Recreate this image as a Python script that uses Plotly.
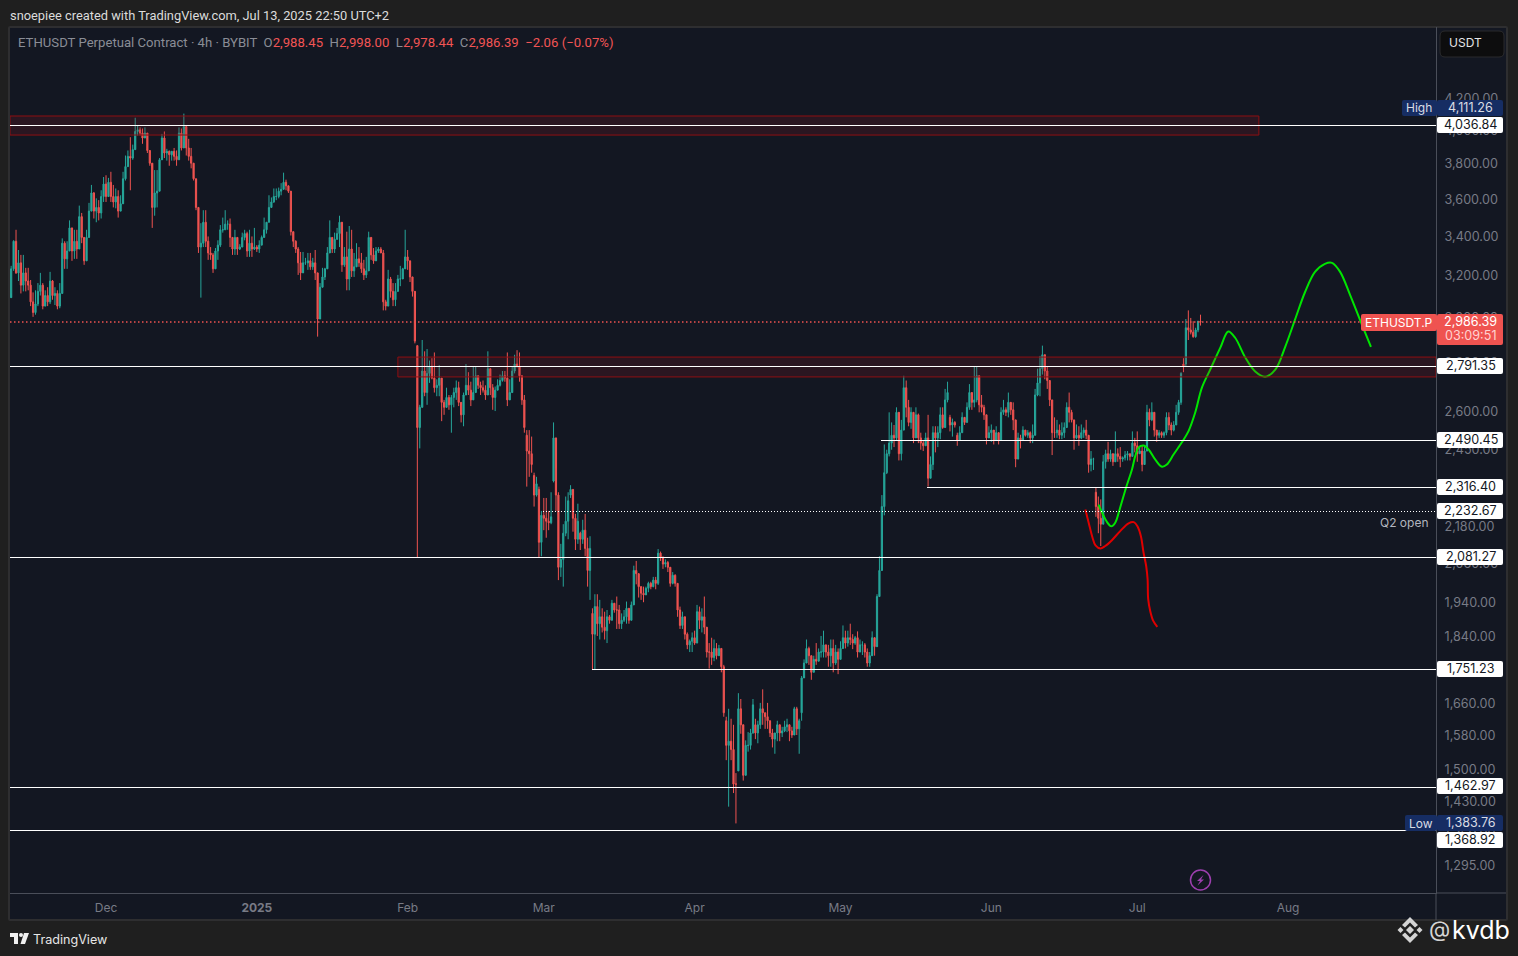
import math
import pandas as pd
import plotly.graph_objects as go

# 12h candles, one row = 10 days, starts 2024-11-11 12:00
highs = [
    3255,3385,3440,3335,3310,3310,3245,3245,3185,3125,3135,3170,3220,3170,3135,3150,3225,3185,3150,3135,
    3170,3395,3380,3380,3490,3440,3440,3440,3570,3530,3390,3440,3585,3685,3645,3610,3600,3655,3730,3740,
    3725,3760,3685,3665,3655,3627,3760,3855,3885,3965,3920,4085,4037,4025,4018,4025,3955,3870,3780,3770,
    3770,3840,3985,4000,3895,3885,3855,3900,3885,4025,4018,4111,4037,3955,3900,3780,3695,3465,3475,3545,
    3545,3405,3350,3320,3345,3385,3465,3505,3545,3490,3500,3360,3440,3365,3365,3425,3440,3430,3440,3405,
    3450,3360,3385,3410,3505,3480,3627,3615,3665,3665,3670,3695,3755,3715,3675,3645,3410,3385,3350,3325,
    3325,3295,3320,3320,3295,3335,3090,3170,3245,3245,3350,3490,3360,3425,3450,3515,3345,3350,3430,3460,
    3440,3320,3370,3350,3320,3285,3300,3430,3380,3345,3350,3350,3350,3335,3090,3235,3200,3170,3170,3210,
    3255,3245,3440,3335,3245,3170,3105,2880,2630,2905,2855,2865,2815,2825,2850,2735,2795,2665,2650,2700,
    2670,2670,2700,2730,2725,2630,2680,2800,2765,2725,2790,2790,2745,2725,2730,2710,2855,2775,2715,2705,
    2735,2755,2770,2770,2850,2735,2790,2840,2860,2850,2720,2670,2530,2530,2505,2370,2355,2320,2235,2280,
    2280,2235,2300,2560,2385,2300,2125,2190,2285,2300,2325,2235,2225,2260,2165,2205,2225,2145,2150,1925,
    1967,1967,1950,1925,1915,1920,1905,1950,1935,1960,1935,1910,1920,1945,1925,1945,2055,2070,2020,1985,
    1990,1990,2005,2005,2020,2020,2108,2100,2085,2075,2070,2040,2035,2028,1990,1930,1915,1890,1855,1835,
    1855,1860,1935,1930,1925,1960,1845,1825,1840,1835,1825,1820,1800,1765,1630,1650,1625,1610,1495,1690,
    1675,1545,1572,1592,1600,1675,1625,1620,1665,1700,1640,1665,1610,1600,1590,1620,1600,1605,1620,1625,
    1600,1605,1655,1655,1625,1735,1780,1835,1815,1790,1790,1825,1810,1845,1860,1820,1820,1835,1835,1820,
    1810,1830,1875,1860,1860,1880,1850,1845,1858,1835,1830,1825,1810,1800,1858,1825,1967,2085,2290,2475,
    2455,2600,2560,2550,2620,2500,2570,2750,2730,2650,2620,2590,2620,2595,2520,2490,2520,2590,2430,2545,
    2545,2545,2620,2620,2695,2725,2590,2575,2565,2520,2545,2600,2575,2640,2715,2670,2790,2790,2735,2670,
    2630,2590,2545,2552,2525,2545,2520,2620,2650,2620,2680,2630,2640,2540,2520,2512,2545,2530,2530,2525,
    2552,2695,2780,2835,2880,2835,2790,2715,2650,2580,2570,2552,2560,2560,2640,2680,2610,2552,2552,2545,
    2552,2540,2570,2495,2450,2425,2315,2285,2275,2435,2455,2485,2455,2435,2525,2460,2465,2430,2450,2450,
    2440,2525,2500,2525,2470,2470,2470,2630,2615,2640,2600,2525,2530,2525,2525,2600,2600,2560,2565,2630,
    2650,2765,2825,3000,3040,3005,2990,2960,2985,3020,
]
lows = [
    3120,3230,3215,3180,3120,3130,3130,3135,3060,3010,3020,3060,3110,3045,3090,3060,3070,3090,3065,3045,
    3050,3120,3240,3240,3330,3280,3290,3290,3370,3370,3260,3300,3430,3560,3500,3480,3490,3500,3590,3590,
    3655,3590,3560,3555,3505,3545,3655,3710,3800,3655,3830,3975,3975,3975,3925,3975,3870,3795,3450,3515,
    3560,3750,3840,3840,3825,3795,3825,3825,3795,3855,3885,3935,3855,3825,3780,3710,3545,3320,3100,3350,
    3350,3285,3285,3220,3265,3285,3350,3425,3440,3440,3350,3310,3310,3310,3335,3350,3385,3300,3300,3300,
    3335,3325,3320,3360,3420,3420,3530,3570,3585,3600,3610,3627,3670,3655,3640,3410,3350,3320,3210,3185,
    3245,3260,3235,3235,3235,3185,2920,3135,3185,3185,3275,3385,3320,3320,3395,3350,3225,3250,3135,3135,
    3200,3200,3260,3250,3220,3185,3195,3350,3285,3265,3300,3320,3320,3040,3040,3060,3100,3060,3060,3135,
    3155,3220,3290,3235,3175,3105,2890,2081,2460,2670,2665,2630,2720,2735,2680,2665,2665,2565,2590,2625,
    2610,2520,2620,2650,2625,2560,2545,2685,2670,2625,2670,2705,2695,2670,2680,2650,2670,2670,2610,2605,
    2695,2705,2725,2725,2625,2650,2755,2760,2785,2725,2630,2520,2320,2355,2370,2250,2285,2080,2085,2170,
    2145,2170,2190,2335,2235,2010,2020,1990,2150,2140,2280,2165,2105,2125,2105,2125,2085,1990,1950,1751,
    1751,1845,1835,1855,1835,1825,1880,1900,1912,1865,1865,1865,1885,1880,1880,1925,1990,1997,1957,1950,
    1943,1967,1973,1982,1988,1982,1995,2070,2045,2050,2035,1990,1997,1990,1900,1865,1865,1835,1808,1800,
    1800,1820,1845,1865,1855,1850,1785,1755,1765,1775,1780,1800,1745,1630,1525,1420,1525,1450,1384,1565,
    1588,1478,1545,1545,1550,1588,1575,1565,1600,1610,1600,1600,1580,1555,1540,1570,1570,1580,1592,1592,
    1570,1578,1600,1585,1540,1620,1735,1775,1765,1725,1745,1765,1780,1785,1785,1785,1760,1760,1745,1765,
    1740,1785,1815,1810,1815,1820,1808,1820,1785,1808,1792,1785,1760,1760,1808,1790,1820,1970,2110,2220,
    2365,2430,2455,2465,2490,2415,2415,2530,2580,2545,2535,2480,2520,2480,2455,2450,2470,2320,2355,2380,
    2445,2465,2495,2535,2590,2640,2525,2505,2540,2470,2495,2520,2550,2560,2610,2610,2620,2640,2600,2600,
    2570,2475,2505,2485,2475,2495,2475,2490,2590,2585,2580,2590,2530,2390,2460,2460,2495,2505,2500,2480,
    2480,2525,2665,2665,2755,2735,2695,2625,2435,2500,2500,2495,2495,2500,2540,2560,2560,2455,2495,2470,
    2495,2500,2495,2370,2375,2380,2215,2160,2118,2190,2385,2410,2410,2395,2415,2410,2390,2410,2415,2415,
    2415,2430,2445,2410,2440,2375,2430,2450,2545,2565,2505,2485,2500,2500,2500,2510,2530,2510,2525,2550,
    2590,2630,2765,2790,2905,2930,2915,2915,2940,2970,
]
opens = [
    3100,3240,3380,3220,3270,3160,3220,3180,3160,3080,3030,3070,3130,3160,3060,3110,3080,3180,3110,3120,
    3060,3120,3370,3290,3330,3450,3330,3380,3340,3510,3400,3280,3400,3540,3640,3540,3560,3530,3620,3690,
    3620,3700,3620,3590,3620,3540,3580,3720,3790,3850,3840,3890,4000,4010,3990,3960,3990,3885,3810,3560,
    3640,3650,3830,3960,3870,3880,3860,3880,3850,3830,3990,3900,4030,3900,3850,3810,3720,3560,3350,3370,
    3480,3380,3320,3310,3240,3330,3360,3440,3440,3470,3470,3400,3340,3400,3340,3350,3400,3420,3330,3370,
    3340,3350,3340,3360,3400,3440,3480,3560,3590,3620,3620,3650,3660,3700,3680,3650,3430,3380,3340,3270,
    3220,3270,3270,3280,3250,3270,3220,3000,3150,3200,3240,3320,3400,3340,3390,3420,3480,3260,3300,3190,
    3340,3230,3250,3290,3270,3240,3210,3230,3400,3310,3280,3330,3340,3320,3080,3060,3190,3130,3090,3130,
    3190,3190,3240,3300,3280,3200,3130,2880,2540,2620,2770,2680,2760,2790,2740,2700,2710,2740,2640,2620,
    2660,2630,2660,2680,2700,2640,2590,2670,2710,2690,2650,2680,2750,2710,2700,2690,2670,2780,2700,2660,
    2690,2710,2730,2750,2740,2650,2680,2770,2800,2790,2750,2650,2510,2450,2440,2360,2290,2310,2130,2220,
    2210,2200,2195,2340,2500,2290,2050,2075,2160,2200,2290,2310,2210,2140,2160,2140,2170,2110,2040,1910,
    1850,1930,1880,1900,1870,1860,1900,1890,1940,1920,1920,1880,1890,1900,1925,1890,1935,2040,2030,1990,
    1970,1965,1985,2000,1990,2010,2000,2095,2080,2060,2065,2050,2000,2025,2000,1920,1875,1900,1850,1820,
    1830,1840,1825,1915,1890,1900,1870,1800,1800,1785,1810,1790,1810,1760,1620,1560,1570,1550,1470,1500,
    1650,1610,1490,1560,1560,1590,1610,1590,1610,1650,1640,1630,1620,1590,1575,1590,1610,1590,1595,1605,
    1610,1595,1585,1650,1600,1640,1730,1770,1810,1790,1745,1780,1775,1800,1800,1820,1800,1790,1810,1770,
    1800,1780,1810,1840,1825,1840,1835,1825,1840,1800,1820,1820,1800,1770,1790,1840,1815,1960,2040,2250,
    2370,2440,2480,2510,2500,2600,2440,2530,2700,2620,2560,2600,2500,2590,2500,2480,2470,2500,2350,2400,
    2520,2500,2520,2590,2540,2650,2580,2550,2560,2510,2490,2520,2580,2560,2620,2680,2640,2650,2750,2630,
    2620,2590,2500,2520,2530,2490,2520,2490,2600,2610,2600,2640,2610,2570,2420,2500,2490,2530,2510,2520,
    2500,2510,2670,2720,2780,2840,2770,2730,2650,2520,2520,2530,2510,2520,2540,2620,2600,2570,2500,2510,
    2500,2520,2530,2510,2400,2420,2300,2250,2210,2190,2410,2440,2420,2440,2410,2440,2430,2420,2425,2435,
    2440,2430,2480,2470,2440,2450,2400,2450,2600,2570,2600,2530,2510,2520,2510,2520,2580,2550,2530,2550,
    2600,2640,2800,2800,2960,2950,2940,2920,2950,2988.45,
]
closes = [
    3240,3380,3220,3270,3160,3220,3180,3160,3080,3030,3070,3130,3160,3060,3110,3080,3180,3110,3120,3060,
    3120,3370,3290,3330,3450,3330,3380,3340,3510,3400,3280,3400,3540,3640,3540,3560,3530,3620,3690,3620,
    3700,3620,3590,3620,3540,3580,3720,3790,3850,3840,3890,4000,4010,3990,3960,3990,3885,3810,3560,3640,
    3650,3830,3960,3870,3880,3860,3880,3850,3830,3990,3900,4030,3900,3850,3810,3720,3560,3350,3370,3480,
    3380,3320,3310,3240,3330,3360,3440,3440,3470,3470,3400,3340,3400,3340,3350,3400,3420,3330,3370,3340,
    3350,3340,3360,3400,3440,3480,3560,3590,3620,3620,3650,3660,3700,3680,3650,3430,3380,3340,3270,3220,
    3270,3270,3280,3250,3270,3220,3000,3150,3200,3240,3320,3400,3340,3390,3420,3480,3260,3300,3190,3340,
    3230,3250,3290,3270,3240,3210,3230,3400,3310,3280,3330,3340,3320,3080,3060,3190,3130,3090,3130,3190,
    3190,3240,3300,3280,3200,3130,2900,2540,2620,2770,2680,2760,2790,2740,2700,2710,2740,2640,2620,2660,
    2630,2660,2680,2700,2640,2590,2670,2710,2690,2650,2680,2750,2710,2700,2690,2670,2780,2700,2660,2690,
    2710,2730,2750,2740,2650,2680,2770,2800,2790,2750,2650,2540,2450,2440,2400,2290,2330,2130,2220,2210,
    2200,2195,2215,2500,2290,2050,2075,2160,2200,2270,2310,2210,2140,2200,2140,2170,2110,2040,2110,1850,
    1930,1880,1900,1870,1860,1900,1890,1940,1920,1920,1880,1890,1900,1925,1890,1935,2040,2030,1990,1970,
    1965,1985,2000,1990,2010,2000,2095,2080,2060,2065,2050,2000,2025,2000,1920,1875,1900,1850,1820,1830,
    1840,1825,1915,1890,1900,1870,1800,1800,1785,1810,1790,1810,1760,1640,1560,1570,1550,1470,1470,1650,
    1610,1490,1560,1560,1590,1660,1590,1610,1650,1640,1630,1620,1590,1575,1590,1610,1590,1595,1605,1610,
    1595,1585,1650,1600,1620,1730,1770,1810,1790,1745,1780,1775,1800,1800,1820,1800,1790,1810,1770,1800,
    1780,1810,1840,1825,1840,1835,1825,1840,1800,1820,1820,1800,1770,1790,1840,1815,1960,2040,2250,2370,
    2440,2480,2510,2500,2600,2440,2530,2700,2620,2560,2600,2500,2590,2500,2480,2470,2500,2350,2400,2520,
    2500,2520,2590,2540,2650,2680,2550,2560,2550,2490,2520,2580,2560,2620,2680,2640,2650,2750,2630,2620,
    2590,2500,2520,2530,2490,2520,2490,2600,2610,2600,2640,2610,2570,2420,2500,2490,2530,2510,2520,2500,
    2510,2670,2720,2780,2840,2770,2730,2650,2520,2520,2530,2510,2520,2540,2620,2600,2570,2500,2510,2500,
    2520,2530,2510,2400,2420,2420,2250,2210,2190,2410,2440,2420,2440,2410,2440,2430,2420,2425,2435,2440,
    2430,2480,2470,2440,2450,2400,2450,2600,2570,2600,2530,2510,2520,2510,2520,2580,2550,2530,2550,2600,
    2640,2760,2790,2960,2950,2940,2920,2950,2990,2986.39,
]

green_dates = [
    "2025-06-23 01:00","2025-06-23 18:00","2025-06-24 19:00","2025-06-25 16:00","2025-06-26 12:00",
    "2025-06-27 09:00","2025-06-28 17:00","2025-06-29 22:00","2025-06-30 14:00","2025-07-01 06:00",
    "2025-07-02 07:00","2025-07-03 08:00","2025-07-04 17:00","2025-07-06 02:00","2025-07-07 02:00",
    "2025-07-08 11:00","2025-07-10 05:00","2025-07-11 13:00","2025-07-12 22:00","2025-07-14 07:00",
    "2025-07-16 00:00","2025-07-18 02:00","2025-07-19 17:00","2025-07-21 03:00","2025-07-23 05:00",
    "2025-07-25 06:00","2025-07-27 07:00","2025-07-29 09:00","2025-07-31 10:00","2025-08-02 10:00",
    "2025-08-04 12:00","2025-08-06 13:00","2025-08-08 14:00","2025-08-10 01:00","2025-08-11 17:00",
    "2025-08-13 18:00","2025-08-15 19:00","2025-08-18 01:00",
]
green_prices = [
    2257,2230,2197,2183,2196,2240,2317,2382,2431,2463,2471,2456,2418,2392,2400,2437,2484,2526,2599,2700,
    2776,2871,2943,2915,2828,2768,2746,2776,2875,2996,3127,3225,3265,3270,3225,3113,2996,2875,
]
red_dates = [
    "2025-06-20 08:00","2025-06-21 00:00","2025-06-21 19:00","2025-06-22 10:00","2025-06-23 10:00",
    "2025-06-24 10:00","2025-06-25 19:00","2025-06-27 12:00","2025-06-29 05:00","2025-06-30 07:00",
    "2025-07-01 01:00","2025-07-01 18:00","2025-07-02 07:00","2025-07-02 20:00","2025-07-03 03:00",
    "2025-07-03 06:00","2025-07-03 16:00","2025-07-04 07:00","2025-07-05 03:00",
]
red_prices = [2240,2196,2146,2120,2110,2118,2137,2167,2193,2197,2183,2150,2097,2054,2013,1952,1917,1888,1871]

price_ticks = [4200,4000,3800,3600,3400,3200,3000,2800,2600,2450,2320,2180,2060,1940,1840,1750,1660,1580,1500,1430,1360,1295]
month_ticks = ["2024-12-01","2025-01-01","2025-02-01","2025-03-01","2025-04-01","2025-05-01","2025-06-01","2025-07-01","2025-08-01"]
month_labels = ["Dec","<b>2025</b>","Feb","Mar","Apr","May","Jun","Jul","Aug"]

# level, start date (None = from the left edge), dash
levels = [
    (4036.84, None, "solid"),
    (2791.35, None, "solid"),
    (2490.45, "2025-05-09 08:00", "solid"),
    (2316.40, "2025-05-18 20:00", "solid"),
    (2232.67, "2025-02-28 20:00", "1px,2px"),
    (2081.27, None, "solid"),
    (1751.23, "2025-03-11 00:00", "solid"),
    (1462.97, None, "solid"),
    (1368.92, None, "solid"),
]
level_labels = ["4,036.84","2,791.35","2,490.45","2,316.40","2,232.67","2,081.27","1,751.23","1,462.97","1,368.92"]
level_label_y = [125,366,440,487,511,557,669,786,840]

X_START = "2024-11-11 06:14"
X_END = "2025-08-31 10:00"
BG = "#131722"
PAGE = "#1f1f1f"
TEAL = "#26a69a"
RED = "#ef5350"
BLUE = "#162d63"
FONT = "Inter"
AXIS = "#4a4e59"
SCALE_SIZE = 12.6
SCALE_X = 1470.5

L, R, T, B = 10, 1436, 27, 893


def px(x):
    return (x - L) / (R - L)


def py(y):
    return 1 - (y - T) / (B - T)


def poly(points):
    return "M " + " L ".join(f"{px(x)},{py(y)}" for x, y in points) + " Z"


def rrect(x0, y0, x1, y1, r=2):
    a, b, c, d = px(x0), px(x1), py(y0), py(y1)
    rx = r / (R - L)
    ry = r / (B - T)
    return (f"M {a+rx},{c} L {b-rx},{c} Q {b},{c} {b},{c-ry} L {b},{d+ry} Q {b},{d} {b-rx},{d} "
            f"L {a+rx},{d} Q {a},{d} {a},{d+ry} L {a},{c-ry} Q {a},{c} {a+rx},{c} Z")


shapes = []
annotations = []


def paper_path(path, fill, line=None, width=0, layer="above"):
    shapes.append(dict(type="path", xref="paper", yref="paper", path=path, fillcolor=fill,
                       line=dict(color=line or fill, width=width), layer=layer))


def label(text, x, y, color="#ffffff", size=12, anchor="center", font=FONT):
    annotations.append(dict(text=text, xref="paper", yref="paper", x=px(x), y=py(y), xanchor=anchor,
                            yanchor="middle", showarrow=False, font=dict(color=color, size=size, family=font)))


# panel behind the chart and the price scale
paper_path(rrect(9, 27, 1507, 920, 1), BG, "#2e2e30", 2, "below")

# axis lines carried on past the plot area
shapes.append(dict(type="line", xref="paper", yref="paper", x0=px(1436), x1=px(1506), y0=py(893), y1=py(893),
                   line=dict(color=AXIS, width=1)))
shapes.append(dict(type="line", xref="paper", yref="paper", x0=px(1436), x1=px(1436), y0=py(893), y1=py(920),
                   line=dict(color=AXIS, width=1)))

# supply zones
shapes.append(dict(type="rect", xref="x", yref="y", x0=X_START, x1="2025-07-26 00:00", y0=3978, y1=4096,
                   fillcolor="rgba(160,20,30,0.17)", line=dict(color="#8e0f12", width=1)))
shapes.append(dict(type="rect", xref="x", yref="y", x0="2025-01-30 00:00", x1=X_END, y0=2745, y1=2830,
                   fillcolor="rgba(160,20,30,0.17)", line=dict(color="#8e0f12", width=1)))

for price, start, dash in levels:
    shapes.append(dict(type="line", xref="x", yref="y", x0=start or X_START, x1=X_END, y0=price, y1=price,
                       line=dict(color="#ffffff", width=1, dash=dash)))
shapes.append(dict(type="line", xref="x", yref="y", x0=X_START, x1=X_END, y0=closes[-1], y1=closes[-1],
                   line=dict(color=RED, width=1.3, dash="1.5px,2.5px")))

# level labels on the price scale
for text, y in zip(level_labels, level_label_y):
    paper_path(rrect(1437, y - 8, 1503, y + 8), "#ffffff")
    label(text, SCALE_X, y - 0.5, "#131722", SCALE_SIZE)

paper_path(rrect(1402, 100, 1437, 116), BLUE)
paper_path(rrect(1437, 100, 1503, 116), BLUE)
label("High", 1419, 108, "#d9dce3")
label("4,111.26", SCALE_X, 107.5, "#d9dce3", SCALE_SIZE)
paper_path(rrect(1405, 815, 1437, 831), BLUE)
paper_path(rrect(1437, 815, 1503, 831), BLUE)
label("Low", 1421, 823, "#d9dce3")
label("1,383.76", SCALE_X, 822.5, "#d9dce3", SCALE_SIZE)

paper_path(rrect(1361, 314, 1437, 331), RED)
label("ETHUSDT.P", 1399, 322.5, "#ffffff")
paper_path(rrect(1437, 314, 1503, 345), RED)
label("2,986.39", SCALE_X, 321.5, "#ffffff", SCALE_SIZE)
label("03:09:51", SCALE_X, 335.5, "#ffd2d0", SCALE_SIZE)

label("Q2 open", 1431, 522, "#b2b5be", 12, "right")

paper_path(rrect(1440, 31, 1504, 57, 5), "#0d0d0e", "#2b2b2d", 1)
label("USDT", 1465.5, 43, "#e4e4e6", 12)

label("snoepiee created with TradingView.com, Jul 13, 2025 22:50 UTC+2", 8, 15.5, "#dcdcdc", 12.85, "left", "Roboto")

grey = '<span style="color:#8a8d96">'
redt = '<span style="color:#f25555">'
label(f"{grey}ETHUSDT Perpetual Contract · 4h · BYBIT  O</span>{redt}2,988.45</span>"
      f"{grey}  H</span>{redt}2,998.00</span>{grey}  L</span>{redt}2,978.44</span>"
      f"{grey}  C</span>{redt}2,986.39  −2.06 (−0.07%)</span>", 16, 43, "#8a8d96", 13.15, "left", "Roboto")

label("TradingView", 31, 939.5, "#e6e6e6", 12.6, "left", "Inter")
paper_path(poly([(10, 933), (18, 933), (18, 944), (14, 944), (14, 937), (10, 937)]), "#f0f0f0")
shapes.append(dict(type="circle", xref="paper", yref="paper", x0=px(19), x1=px(23), y0=py(937), y1=py(933),
                   fillcolor="#f0f0f0", line=dict(width=0)))
paper_path(poly([(24, 933), (29, 933), (25, 944), (20.5, 944)]), "#f0f0f0")

# watermark
label("@", 1439, 929, "#d4d4d4", 22, "center", "Inter")
label("kvdb", 1481, 930, "#ffffff", 25, "center", "Inter")
ICON = "#d4d4d4"
cx, cy = 1410, 930
paper_path(poly([(cx, cy - 4), (cx + 4, cy), (cx, cy + 4), (cx - 4, cy)]), ICON)
paper_path(poly([(cx - 12.5, cy), (cx - 9.5, cy - 3), (cx - 6.5, cy), (cx - 9.5, cy + 3)]), ICON)
paper_path(poly([(cx + 12.5, cy), (cx + 9.5, cy - 3), (cx + 6.5, cy), (cx + 9.5, cy + 3)]), ICON)
paper_path(poly([(cx, cy - 13), (cx + 8, cy - 5), (cx + 5, cy - 2.5), (cx, cy - 7.5), (cx - 5, cy - 2.5), (cx - 8, cy - 5)]), ICON)
paper_path(poly([(cx, cy + 13), (cx + 8, cy + 5), (cx + 5, cy + 2.5), (cx, cy + 7.5), (cx - 5, cy + 2.5), (cx - 8, cy + 5)]), ICON)

# lightning marker
shapes.append(dict(type="circle", xref="paper", yref="paper", x0=px(1190.5), x1=px(1210.5), y0=py(890), y1=py(870),
                   fillcolor="rgba(0,0,0,0)", line=dict(color="#9c3fae", width=1.5)))
paper_path(poly([(1203.5, 875), (1197, 881), (1200, 881), (1197.5, 885.5), (1204, 879.5), (1201, 879.5)]), "#9c3fae")

dates = pd.date_range("2024-11-11 12:00", periods=len(closes), freq="12h")

fig = go.Figure()
fig.add_trace(go.Candlestick(
    x=dates, open=opens, high=highs, low=lows, close=closes,
    increasing=dict(line=dict(color=TEAL, width=1), fillcolor=TEAL),
    decreasing=dict(line=dict(color=RED, width=1), fillcolor=RED),
    whiskerwidth=0,
))
fig.add_trace(go.Scatter(x=green_dates, y=green_prices, mode="lines",
                         line=dict(color="#00e600", width=2, shape="spline")))
fig.add_trace(go.Scatter(x=red_dates, y=red_prices, mode="lines",
                         line=dict(color="#e00000", width=2, shape="spline")))

fig.update_layout(
    width=1518, height=956, autosize=False,
    margin=dict(l=L, r=1518 - R, t=T, b=956 - B),
    paper_bgcolor=PAGE, plot_bgcolor=BG,
    showlegend=False, hovermode=False,
    font=dict(family=FONT, size=12, color="#787b86"),
    shapes=shapes, annotations=annotations,
    xaxis=dict(
        type="date", range=[X_START, X_END], rangeslider=dict(visible=False),
        tickmode="array", tickvals=month_ticks, ticktext=month_labels, ticks="",
        showgrid=False, zeroline=False, showline=True, linecolor=AXIS, linewidth=1,
        tickfont=dict(color="#787b86", size=12, family=FONT), ticklabelstandoff=4,
    ),
    yaxis=dict(
        type="log", side="right", range=[3.09478, 3.67164],
        tickmode="array", tickvals=price_ticks, ticktext=[f"{v:,.2f}" for v in price_ticks], ticks="",
        showgrid=False, zeroline=False, showline=True, linecolor=AXIS, linewidth=1,
        tickfont=dict(color="#787b86", size=SCALE_SIZE, family=FONT), ticklabelstandoff=5, ticklabelshift=-1,
    ),
)

# keep the level lines one pixel sharp
crisp = ("document.querySelectorAll('.shapelayer path').forEach(function(p){"
         "if(p.style.stroke==='rgb(255, 255, 255)'){p.style.shapeRendering='crispEdges';}});")
fig.write_html("out.html", config={"displayModeBar": False},
               post_script="document.body.style.margin='0';document.body.style.overflow='hidden';" + crisp)
